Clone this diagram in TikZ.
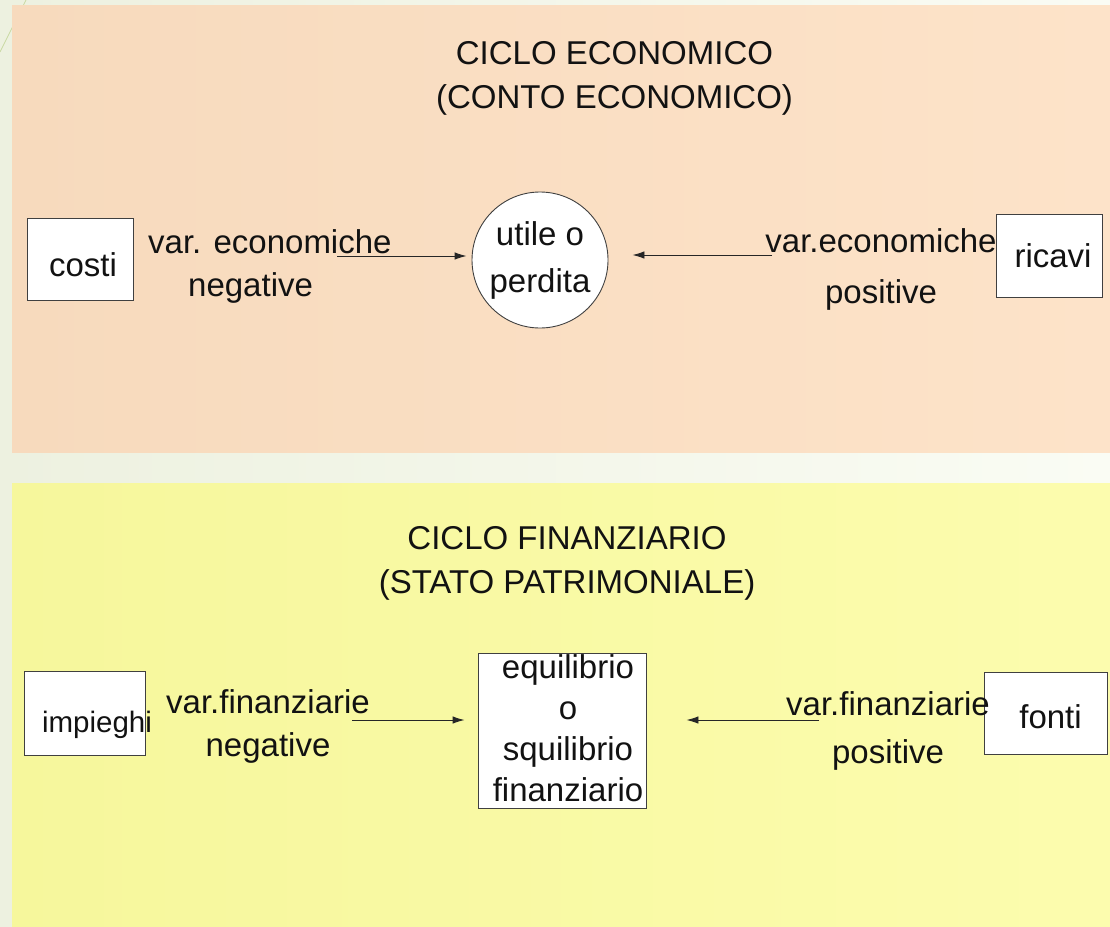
\documentclass[tikz,border=0pt]{standalone}
\usepackage{fontspec}
\setmainfont{Liberation Sans}
\usetikzlibrary{arrows.meta}

\definecolor{pageL}{HTML}{EDF1E0}
\definecolor{pageR}{HTML}{FAFCF4}
\definecolor{peachL}{HTML}{F7DABD}
\definecolor{peachR}{HTML}{FDE3C9}
\definecolor{yellowL}{HTML}{F6F79C}
\definecolor{yellowR}{HTML}{FCFCAE}
\definecolor{deco}{HTML}{C9D9A2}

\begin{document}
\begin{tikzpicture}[x=1pt,y=-1pt,
        txt/.style={font=\fontsize{33}{#1}\selectfont, inner sep=0pt, align=center, text=black!93},
        txt/.default=44,
        box/.style={draw=black!75, fill=white, line width=0.9pt, inner sep=0pt},
        arr/.style={-{Latex[length=12pt,width=7.5pt]}, line width=0.9pt, black!85}]
    \useasboundingbox (0,0) rectangle (1110,926);

    % slide background and the two panels
    \shade[left color=pageL, right color=pageR] (0,0) rectangle (1110,926);
    \draw[deco, line width=0.8pt] (0,52) -- (26,0);
    \shade[left color=peachL, right color=peachR] (12,5) rectangle (1110,452);
    \shade[left color=yellowL, right color=yellowR] (12,483) rectangle (1110,926);

    % ciclo economico
    \node[txt] (tecon) at (614.5,78.5) {CICLO ECONOMICO\\(CONTO ECONOMICO)};
    \node[box, txt, text height=33pt, text depth=0pt, minimum width=106pt, minimum height=82pt] (costi) at (80,259.5) {\hspace*{6pt}costi};
    \node[box, txt, minimum width=106pt, minimum height=83pt] (ricavi) at (1049,255.5) {\hspace*{8pt}ricavi};
    \node[box, txt=47, circle, minimum size=136pt] (utile) at (540,260) {utile o\\perdita};
    \node[txt=43, align=left, anchor=west] (negecon) at (148,266) {var. economiche\\\hspace*{40pt}negative};
    \node[txt=51] (posecon) at (881,269) {var.economiche\\positive};

    \coordinate (a1) at (337,256);
    \coordinate (a2) at (772,255);
    \draw[arr, shorten >=5pt] (a1) -- (a1 -| utile.west);
    \draw[arr, shorten >=24pt] (a2) -- (a2 -| utile.east);

    % ciclo finanziario
    \node[txt] (tfin) at (567,563.5) {CICLO FINANZIARIO\\(STATO PATRIMONIALE)};
    \node[box, minimum width=121pt, minimum height=84pt] (impieghi) at (84.5,713) {};
    \node[txt, font=\fontsize{29.5}{36}\selectfont] (impt) at (97,725) {impieghi};
    \node[box, txt, text height=30pt, text depth=0pt, minimum width=123pt, minimum height=82pt] (fonti) at (1045.5,713) {\hspace*{10pt}fonti};
    \node[box, txt=41, minimum width=168pt, minimum height=155pt] (equil) at (562,730.5)
        {\hspace*{12pt}equilibrio\\\hspace*{12pt}o\\\hspace*{12pt}squilibrio\\\hspace*{12pt}finanziario\rule[-4pt]{0pt}{4pt}};
    \node[txt=43] (negfin) at (268,726) {var.finanziarie\\negative};
    \node[txt=48] (posfin) at (888,730.5) {var.finanziarie\\positive};

    \coordinate (b1) at (352,720);
    \coordinate (b2) at (819,720);
    \draw[arr, shorten >=13pt] (b1) -- (b1 -| equil.west);
    \draw[arr, shorten >=40pt] (b2) -- (b2 -| equil.east);
\end{tikzpicture}
\end{document}
